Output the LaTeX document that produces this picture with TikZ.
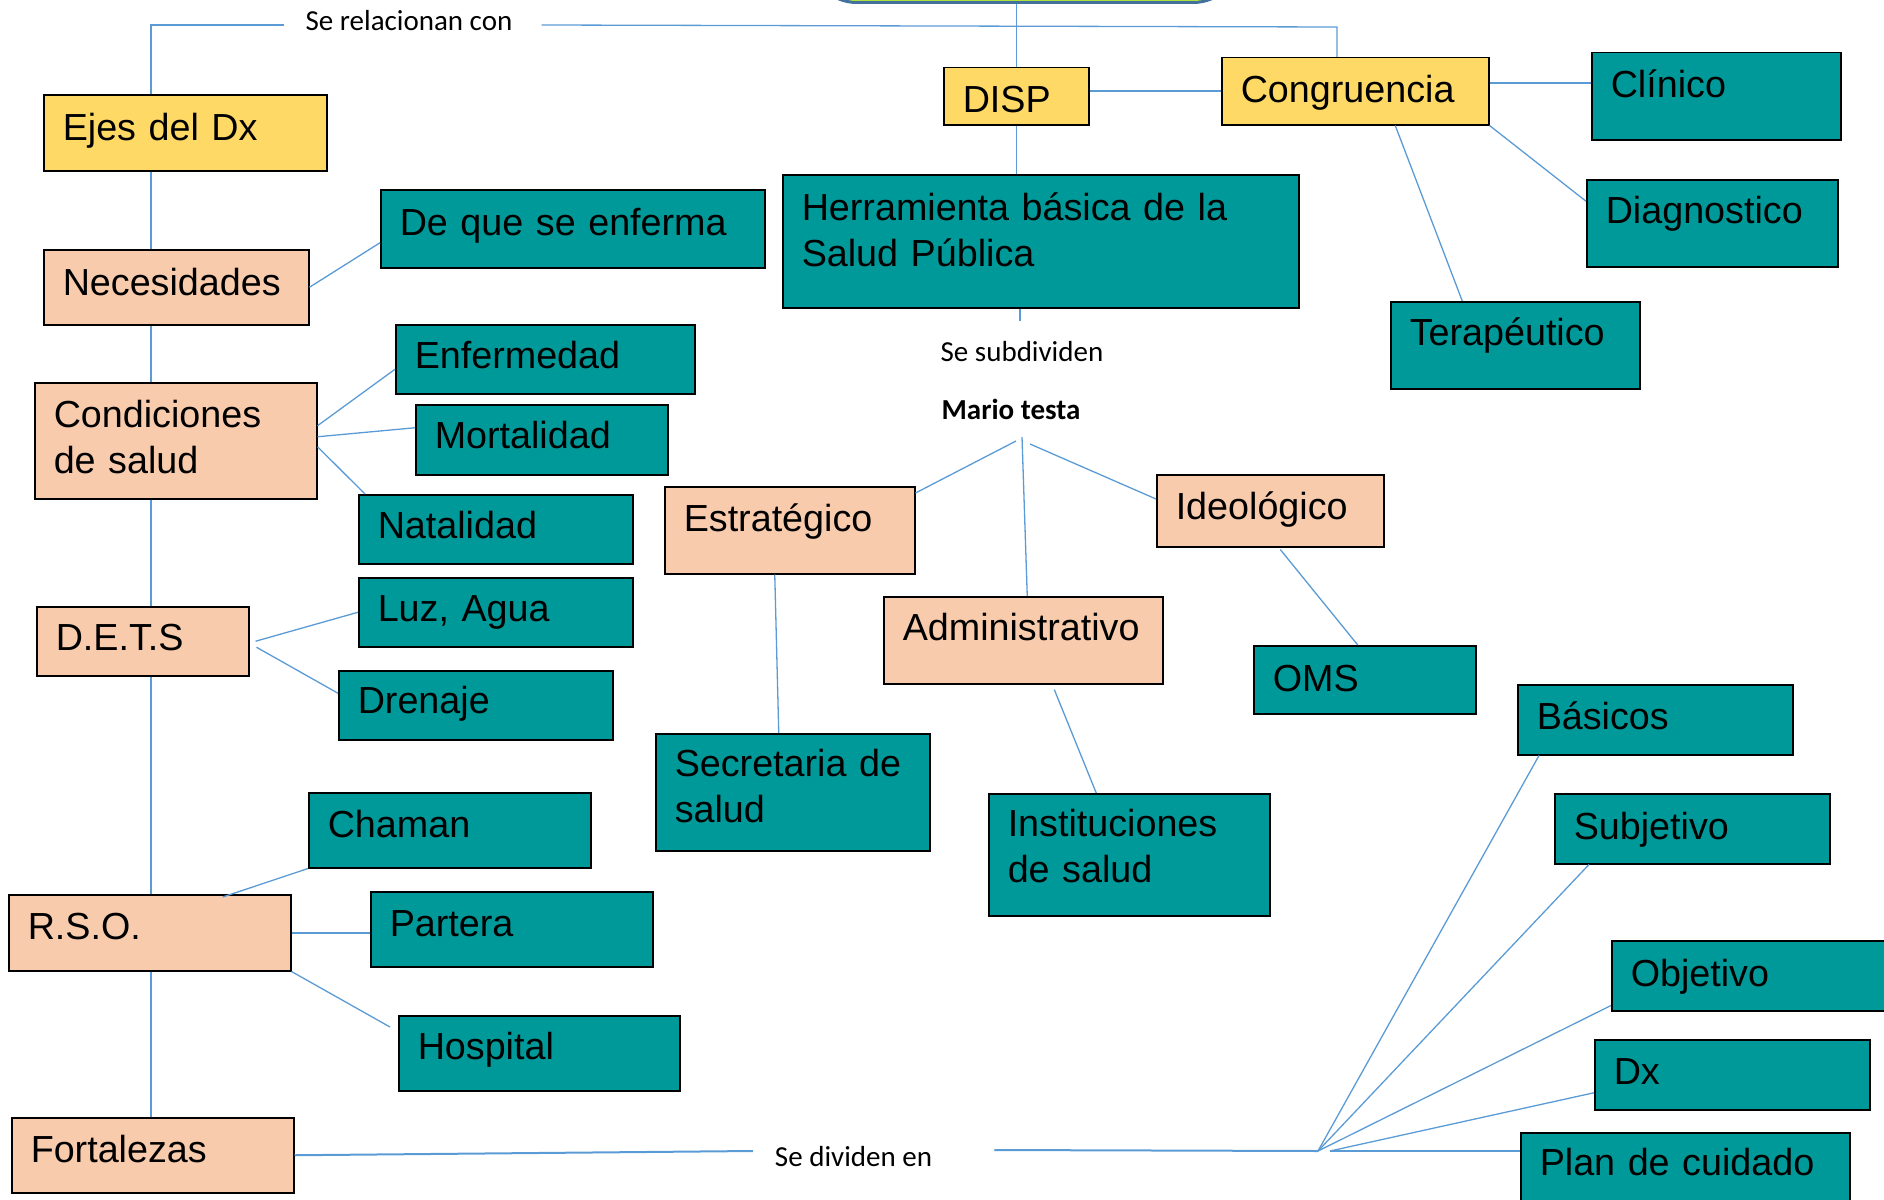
\documentclass[tikz,border=0pt]{standalone}
\usepackage{fontspec}
\setmainfont{Liberation Sans}
\newfontfamily\calibriFont{Carlito}
\usepackage{tikz}
\usetikzlibrary{calc}
\definecolor{boxTeal}{RGB}{0,153,153}
\definecolor{boxPeach}{RGB}{248,203,173}
\definecolor{boxYellow}{RGB}{255,217,102}
\definecolor{linkBlue}{RGB}{91,155,213}
\definecolor{topGreen}{RGB}{192,240,48}
\definecolor{topBorder}{RGB}{65,113,156}

\begin{document}
\begin{tikzpicture}[x = 1pt, y = -1pt,
                    font = \fontsize{37.7pt}{46pt}\selectfont,
                    baseRectangle/.style = {draw = black, line width = 1.5pt, rectangle, anchor = north west, inner xsep = 19pt, inner ysep = 0pt, align = left},
                    tealRectangle/.style = {baseRectangle, fill = boxTeal},
                    peachRectangle/.style = {baseRectangle, fill = boxPeach},
                    yellowRectangle/.style = {baseRectangle, fill = boxYellow},
                    boxSize/.style n args = {3}{text width = #1, text height = #2, text depth = #3},
                    linkLabel/.style = {anchor = base, inner sep = 0pt, font = \calibriFont\fontsize{29pt}{34pt}\selectfont},
                    linkLine/.style = {draw = linkBlue, line width = 1.3pt},
                    thickLink/.style = {linkLine, line width = 2pt}]
    \useasboundingbox (0, 0) rectangle (1884, 1199);
    \clip (0, 0) rectangle (1884, 1199);

    \node [draw = topBorder, line width = 3pt, fill = topGreen, rounded corners = 48pt,
           minimum width = 432pt, minimum height = 110pt, anchor = south] (topBox) at (1025, 4) {};

    \node [yellowRectangle, boxSize = {245pt}{46pt}{30pt}] (ejesDx)       at (43, 94)    {Ejes del Dx};
    \node [peachRectangle,  boxSize = {227pt}{46pt}{29pt}] (necesidades)  at (43, 249)   {Necesidades};
    \node [tealRectangle,   boxSize = {346pt}{46pt}{32pt}] (deQue)        at (380, 189)  {De que se enferma};
    \node [tealRectangle,   boxSize = {261pt}{44pt}{25pt}] (enfermedad)   at (395, 324)  {Enfermedad};
    \node [peachRectangle,  boxSize = {244pt}{45pt}{71pt}] (condiciones)  at (34, 382)   {Condiciones\\de salud};
    \node [tealRectangle,   boxSize = {214pt}{44pt}{26pt}] (mortalidad)   at (415, 404)  {Mortalidad};
    \node [tealRectangle,   boxSize = {236pt}{44pt}{25pt}] (natalidad)    at (358, 494)  {Natalidad};
    \node [tealRectangle,   boxSize = {236pt}{44pt}{25pt}] (luzAgua)      at (358, 577)  {Luz, Agua};
    \node [peachRectangle,  boxSize = {174pt}{44pt}{25pt}] (dets)         at (36, 606)   {D.E.T.S};
    \node [tealRectangle,   boxSize = {236pt}{43pt}{26pt}] (drenaje)      at (338, 670)  {Drenaje};
    \node [tealRectangle,   boxSize = {244pt}{45pt}{30pt}] (chaman)       at (308, 792)  {Chaman};
    \node [peachRectangle,  boxSize = {244pt}{45pt}{31pt}] (rso)          at (8, 894)    {R.S.O.};
    \node [tealRectangle,   boxSize = {244pt}{45pt}{30pt}] (partera)      at (370, 891)  {Partera};
    \node [tealRectangle,   boxSize = {243pt}{44pt}{31pt}] (hospital)     at (398, 1015) {Hospital};
    \node [peachRectangle,  boxSize = {244pt}{45pt}{30pt}] (fortalezas)   at (11, 1117)  {Fortalezas};

    \node [yellowRectangle, boxSize = {107pt}{45pt}{12pt}] (disp)         at (943, 67)   {DISP};
    \node [yellowRectangle, boxSize = {229pt}{45pt}{22pt}] (congruencia)  at (1221, 57)  {Congruencia};
    \node [tealRectangle,   boxSize = {478pt}{46pt}{87pt}] (herramienta)  at (782, 174)  {Herramienta básica de la\\Salud Pública};
    \node [tealRectangle,   boxSize = {211pt}{45pt}{42pt}] (clinico)      at (1591, 52)  {Clínico};
    \node [tealRectangle,   boxSize = {213pt}{44pt}{43pt}] (diagnostico)  at (1586, 179) {Diagnostico};
    \node [tealRectangle,   boxSize = {211pt}{44pt}{43pt}] (terapeutico)  at (1390, 301) {Terapéutico};

    \node [peachRectangle,  boxSize = {212pt}{45pt}{42pt}] (estrategico)    at (664, 486)  {Estratégico};
    \node [peachRectangle,  boxSize = {241pt}{44pt}{43pt}] (administrativo) at (883, 596)  {Administrativo};
    \node [peachRectangle,  boxSize = {189pt}{45pt}{27pt}] (ideologico)     at (1156, 474) {Ideológico};
    \node [tealRectangle,   boxSize = {184pt}{46pt}{22pt}] (oms)            at (1253, 645) {OMS};
    \node [tealRectangle,   boxSize = {236pt}{43pt}{74pt}] (secretaria)     at (655, 733)  {Secretaria de\\salud};
    \node [tealRectangle,   boxSize = {243pt}{43pt}{79pt}] (instituciones)  at (988, 793)  {Instituciones\\de salud};

    \node [tealRectangle,   boxSize = {237pt}{45pt}{25pt}] (basicos)      at (1517, 684)  {Básicos};
    \node [tealRectangle,   boxSize = {237pt}{46pt}{24pt}] (subjetivo)    at (1554, 793)  {Subjetivo};
    \node [tealRectangle,   boxSize = {262pt}{46pt}{24pt}] (objetivo)     at (1611, 940)  {Objetivo};
    \node [tealRectangle,   boxSize = {237pt}{45pt}{25pt}] (dx)           at (1594, 1039) {Dx};
    \node [tealRectangle,   boxSize = {291pt}{43pt}{40pt}] (planCuidado)  at (1520, 1132) {Plan de cuidado};

    \node [linkLabel] (relacionan) at (409, 31)     {Se relacionan con};
    \node [linkLabel] (subdividen) at (1022, 361)   {Se subdividen};
    \node [linkLabel, font = \calibriFont\bfseries\fontsize{29pt}{34pt}\selectfont] (marioTesta) at (1011, 419) {Mario testa};
    \node [linkLabel] (dividen)    at (853.5, 1166) {Se dividen en};

    \coordinate (spine)         at (151, 0);
    \coordinate (relacionanEnd) at (1337, 27);
    \coordinate (subdividenTop) at (1020, 321);
    \coordinate (testaLeft)     at (1016, 441);
    \coordinate (testaMid)      at (1022, 437);
    \coordinate (testaRight)    at (1030, 444);
    \coordinate (dividenHub)    at (1318, 1151);

    \draw [linkLine] (ejesDx.north -| spine) |- ([xshift = -21pt, yshift = 6pt]relacionan.base west);
    \draw [linkLine] ([xshift = 29pt, yshift = 6pt]relacionan.base east) -- (relacionanEnd) -- (relacionanEnd |- congruencia.north);
    \draw [linkLine] (ejesDx.south -| spine)      -- (necesidades.north -| spine);
    \draw [linkLine] (necesidades.south -| spine) -- (condiciones.north -| spine);
    \draw [linkLine] (condiciones.south -| spine) -- (dets.north -| spine);
    \draw [linkLine] (dets.south -| spine)        -- (rso.north -| spine);
    \draw [linkLine] (rso.south -| spine)         -- (fortalezas.north -| spine);

    \draw [linkLine] (necesidades.east) -- ([yshift = -14pt]deQue.west);
    \draw [linkLine] ([yshift = 15pt]condiciones.east) -- ([yshift = -10pt]enfermedad.west);
    \draw [linkLine] ([yshift = 4pt]condiciones.east)  -- ([yshift = 12pt]mortalidad.west);
    \draw [linkLine] ([yshift = -6pt]condiciones.east) -- ([xshift = 7pt]natalidad.north west);
    \draw [linkLine] ([xshift = 6pt]dets.east) -- (luzAgua.west);
    \draw [linkLine] ([xshift = 7pt, yshift = -6pt]dets.east) -- ([yshift = 12pt]drenaje.west);
    \draw [linkLine] (chaman.south west) -- ([xshift = 73pt, yshift = -3pt]rso.north);
    \draw [thickLink] (rso.east) -- (rso.east -| partera.west);
    \draw [linkLine] (rso.south east) -- ([xshift = -8pt, yshift = -12pt]hospital.north west);

    \draw [thickLink] (fortalezas.east) -- ([xshift = -22pt, yshift = 15pt]dividen.base west);
    \draw [thickLink] ([xshift = 62pt, yshift = 16pt]dividen.base east) -- (dividenHub);
    \draw [linkLine] (dividenHub) -- ([xshift = 22pt]basicos.south west);
    \draw [linkLine] (dividenHub) -- ([xshift = 35pt]subjetivo.south west);
    \draw [linkLine] (dividenHub) -- ([yshift = 6pt]objetivo.south west);
    \draw [linkLine] ([xshift = 12pt]dividenHub) -- ([yshift = -18pt]dx.west);
    \draw [thickLink] ([xshift = 12pt]dividenHub) -- (dividenHub -| planCuidado.west);

    \draw [linkLine] (disp.north |- topBox.south) -- (disp.north);
    \draw [thickLink] (disp.east |- congruencia.west) -- (congruencia.west);
    \draw [linkLine] (disp.south) -- (disp.south |- herramienta.north);
    \draw [linkLine] (herramienta.south -| subdividenTop) -- (subdividenTop);
    \draw [thickLink] ([yshift = 8pt]congruencia.east) -- ([yshift = 13pt]clinico.west);
    \draw [linkLine] (congruencia.south east) -- ([yshift = 22pt]diagnostico.west);
    \draw [linkLine] ([xshift = 40pt]congruencia.south) -- ([xshift = -53pt]terapeutico.north);

    \draw [linkLine] (testaLeft)  -- ([yshift = -7pt]estrategico.north east);
    \draw [linkLine] (testaMid)   -- ([xshift = 4pt]administrativo.north);
    \draw [linkLine] (testaRight) -- ([yshift = -25pt]ideologico.north west);
    \draw [linkLine] ([xshift = -15pt]estrategico.south) -- ([xshift = -14pt]secretaria.north);
    \draw [linkLine] ([xshift = 31pt, yshift = -5pt]administrativo.south) -- ([xshift = -33pt]instituciones.north);
    \draw [linkLine] ([xshift = 10pt, yshift = -2pt]ideologico.south) -- ([xshift = -7pt]oms.north);
\end{tikzpicture}
\end{document}
